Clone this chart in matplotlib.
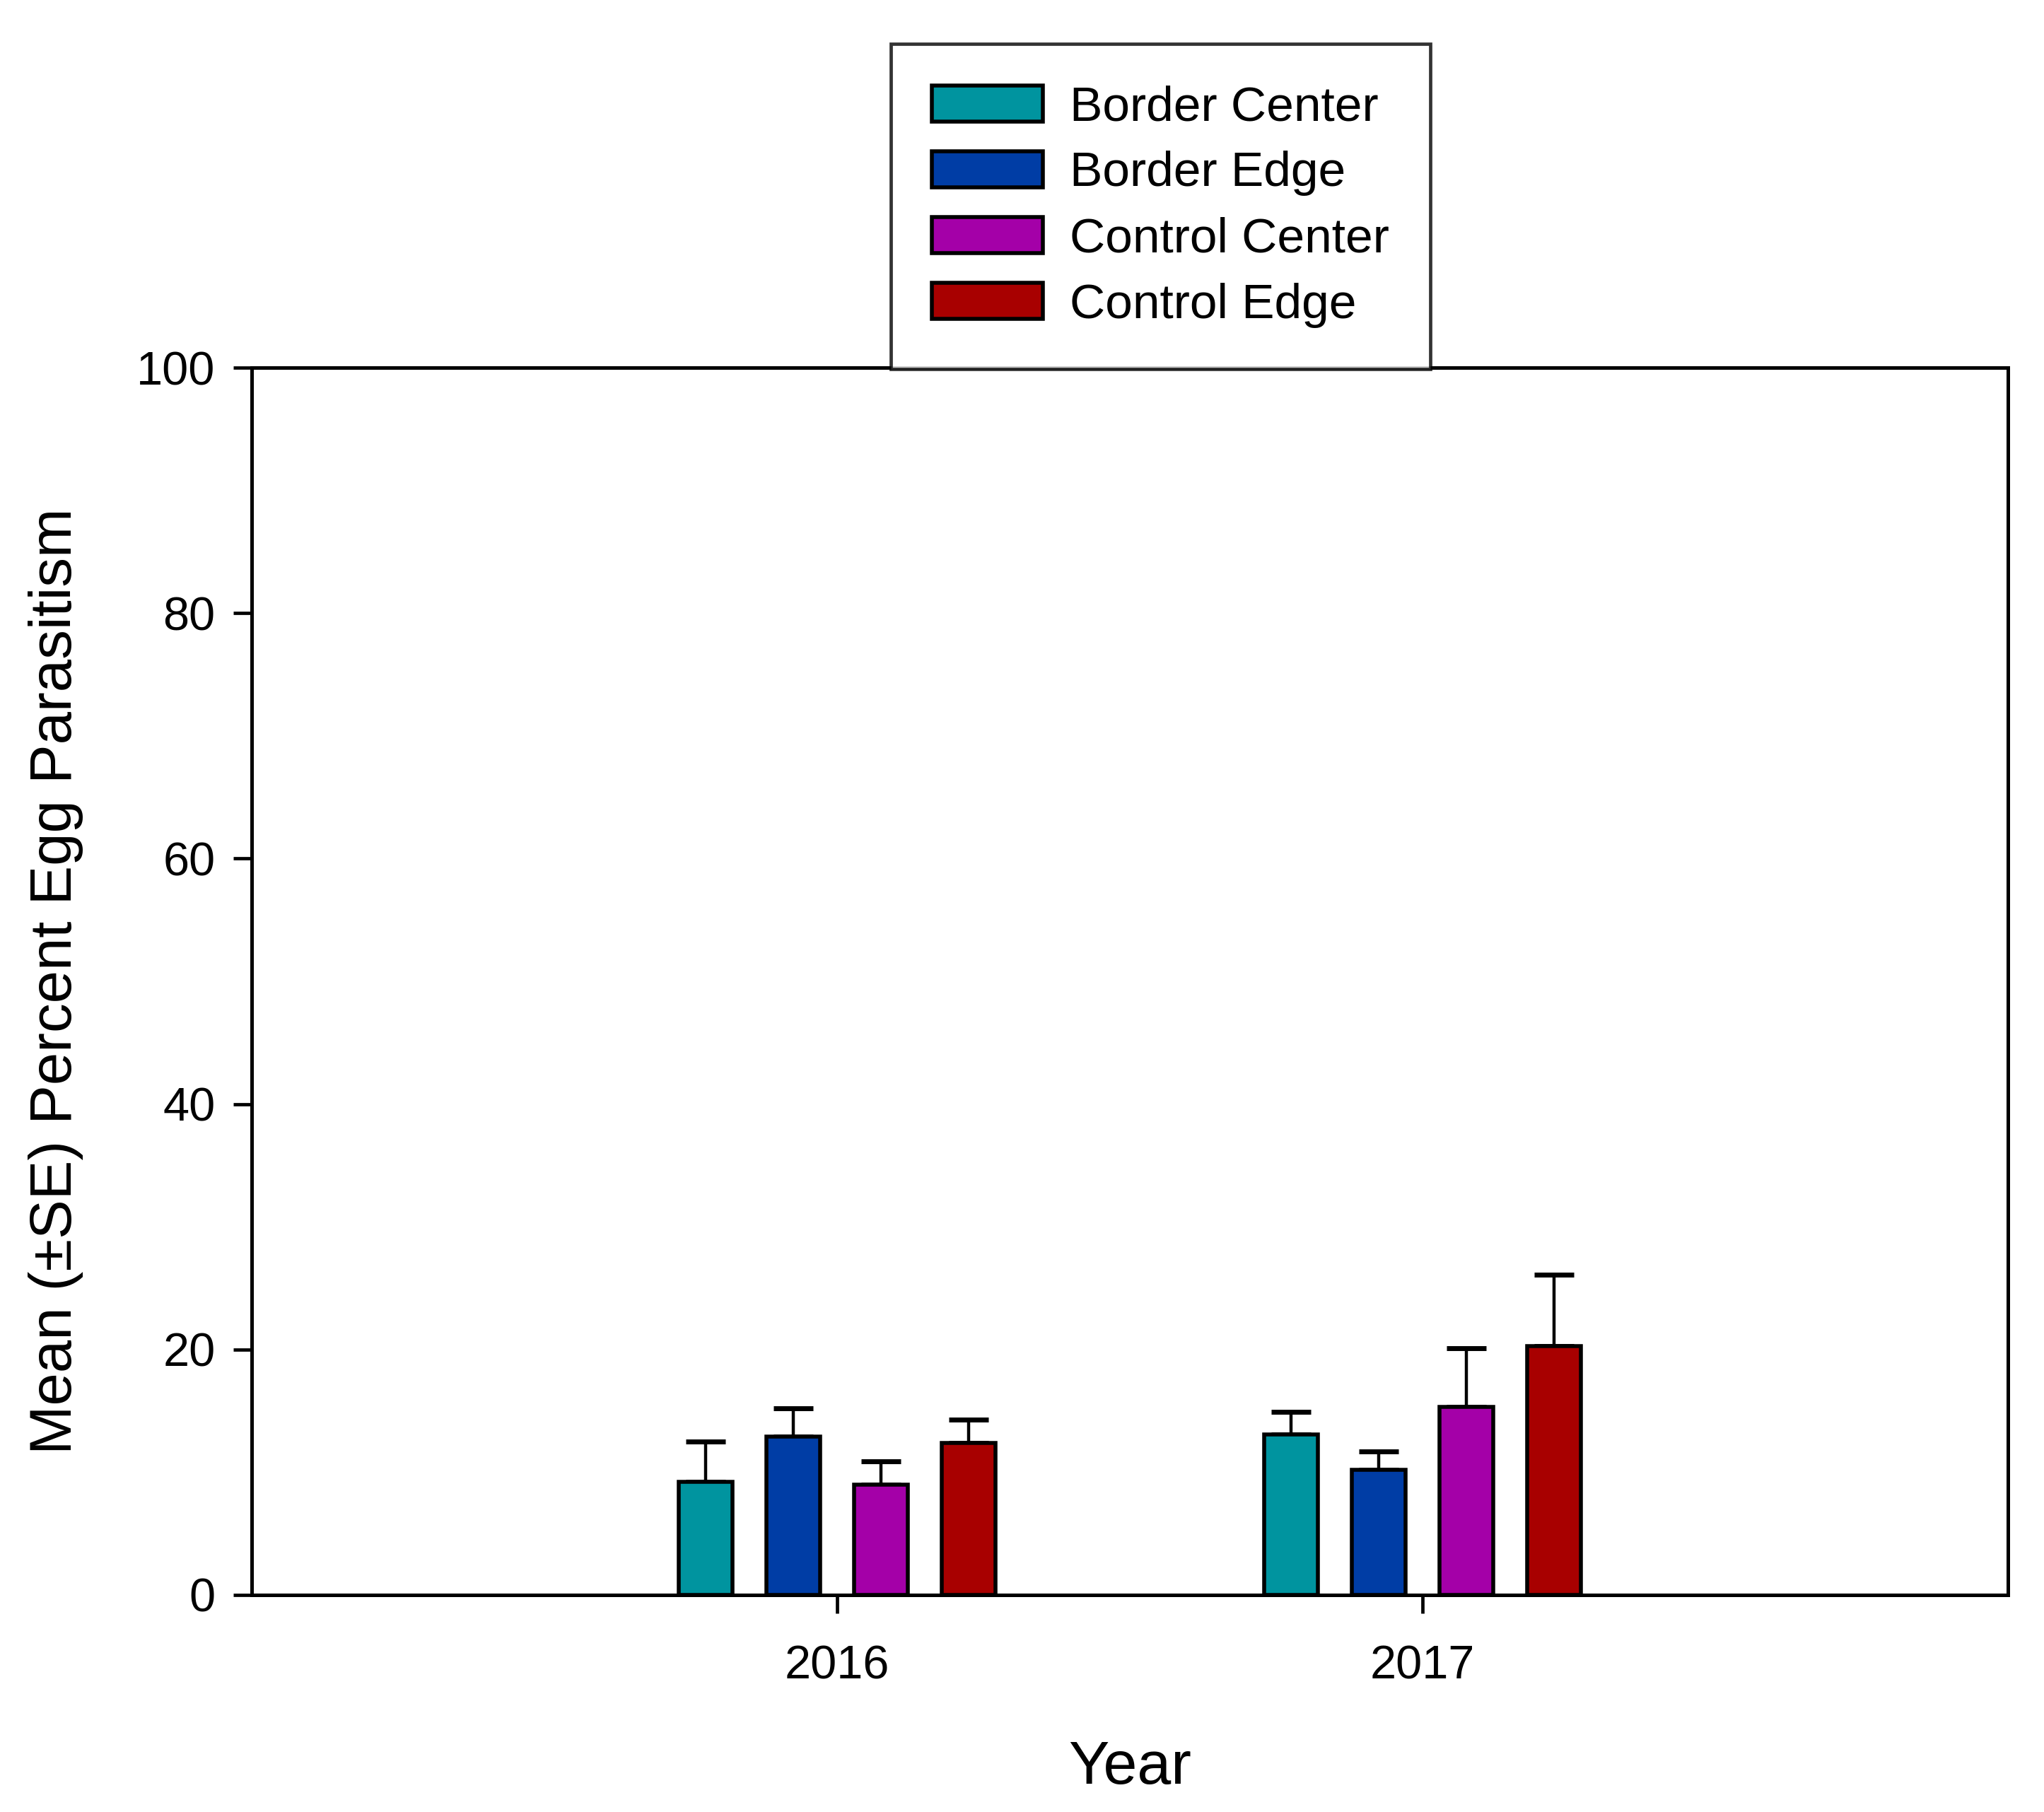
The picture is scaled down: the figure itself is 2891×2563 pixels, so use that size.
import numpy as np
import matplotlib
matplotlib.use('Agg')
import matplotlib.pyplot as plt

plt.rcParams['font.family'] = ['Liberation Sans', 'DejaVu Sans']

# Data
years = ['2016', '2017']
groups = ['Border Center', 'Border Edge', 'Control Center', 'Control Edge']
means = {
    'Border Center': [9.2, 13.1],
    'Border Edge': [12.9, 10.2],
    'Control Center': [9.0, 15.3],
    'Control Edge': [12.4, 20.3],
}
se = {
    'Border Center': [3.3, 1.8],
    'Border Edge': [2.3, 1.5],
    'Control Center': [1.9, 4.8],
    'Control Edge': [1.9, 5.8],
}
colors = ['#00949F', '#003DA5', '#A400A8', '#A80000']

fig = plt.figure(figsize=(28.91, 25.63), dpi=100)
ax = fig.add_axes([0.1231, 0.1198, 0.8593, 0.6773])

x = np.arange(1, len(years) + 1)
width = 0.092
offsets = [-0.225, -0.075, 0.075, 0.225]
for g, c, off in zip(groups, colors, offsets):
    ax.bar(x + off, means[g], width, color=c, edgecolor='black', linewidth=4,
           label=g, zorder=2)
    ax.errorbar(x + off, means[g], yerr=[np.zeros(len(years)), se[g]], fmt='none',
                ecolor='black', elinewidth=3.2, capsize=20, capthick=5, zorder=1)

ax.set_xlim(0, 3)
ax.set_ylim(0, 100)
ax.set_xticks(x)
ax.set_xticklabels(years)
ax.set_yticks(np.arange(0, 101, 20))
ax.tick_params(axis='both', direction='out', length=19, width=3.4, labelsize=48)
ax.tick_params(axis='x', pad=32)
ax.tick_params(axis='y', pad=18)
for s in ax.spines.values():
    s.set_linewidth(3.6)

ax.set_xlabel('Year', fontsize=62, labelpad=52)
ax.set_ylabel('Mean (\u00b1SE) Percent Egg Parasitism', fontsize=60, labelpad=54)

leg = fig.legend(loc='upper left', bbox_to_anchor=(1260 / 2891, 1 - 62 / 2563),
                 fontsize=50, frameon=True, fancybox=False, edgecolor='black',
                 handlelength=2.25, handleheight=0.75, handletextpad=0.55,
                 labelspacing=0.42, borderpad=0.84, borderaxespad=0)
leg.get_frame().set_linewidth(3.4)

fig.savefig('out.png', dpi=100, facecolor='white')
